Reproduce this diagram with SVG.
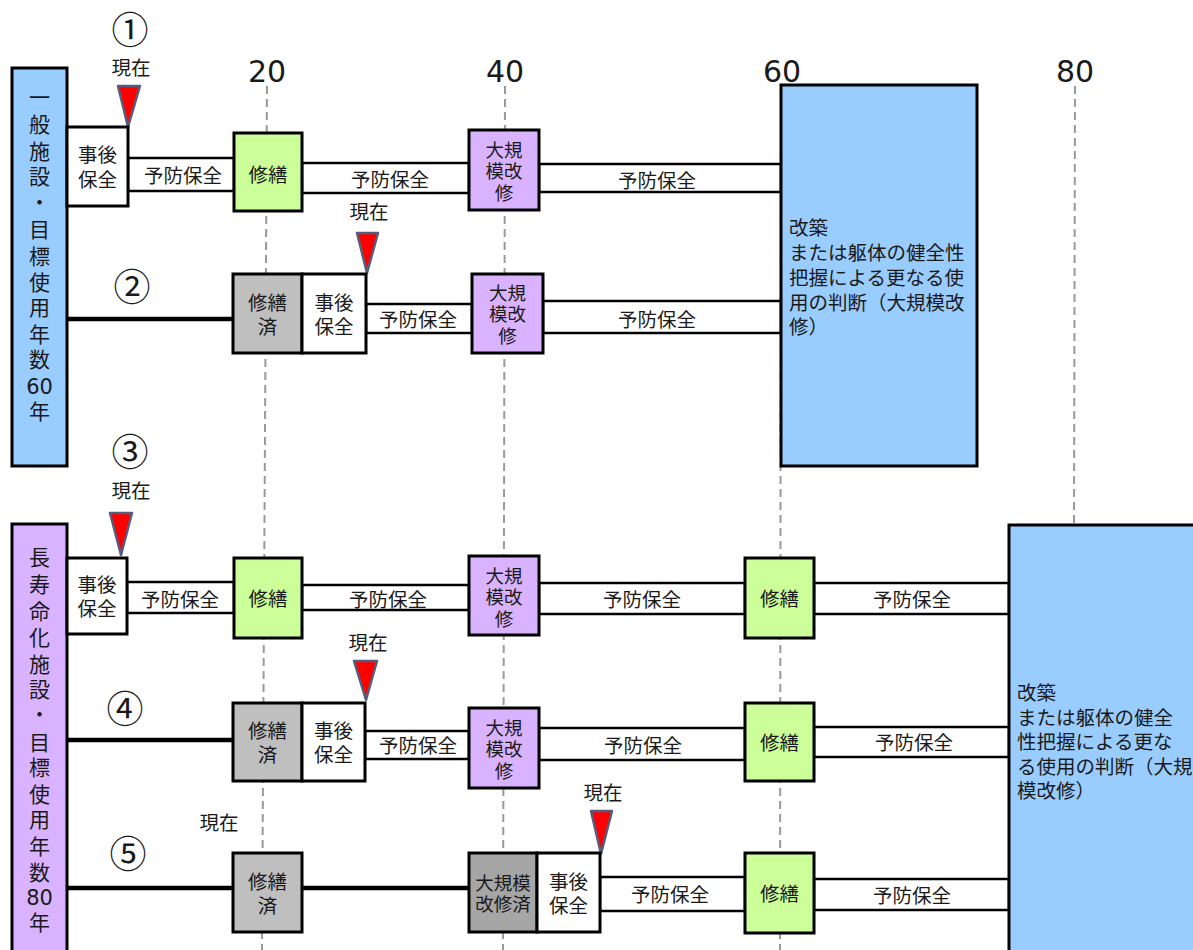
<svg xmlns="http://www.w3.org/2000/svg" width="1193" height="950" viewBox="0 0 1193 950">
<style>
text{font-family:"DejaVu Sans","Noto Sans CJK JP",sans-serif;fill:#1a1a1a;text-anchor:middle;dominant-baseline:central}
.t{font-size:19.5px}
.s{font-size:18.5px}
.num{font-size:30px}
.circ{font-size:37px;font-family:"Noto Sans CJK JP",sans-serif}
.bar{font-size:21px}
.lt{font-size:19.5px;text-anchor:start}
.box{stroke:#000;stroke-width:3}
.white{fill:#fff}
.green{fill:#ccff99}
.purple{fill:#d9b3ff}
.gray{fill:#bfbfbf}
.dgray{fill:#a6a6a6}
.blue{fill:#99ccff}
.band{fill:#fff;stroke:#000;stroke-width:2.5}
.dash{stroke:#999;stroke-width:2;stroke-dasharray:8 5;fill:none}
.thick{stroke:#000;stroke-width:4.5;fill:none}
.tri{fill:#ff0000;stroke:#555d7c;stroke-width:2.5;stroke-linejoin:round}
</style>
<rect width="1193" height="950" fill="#fff"/>
<g id="axis">
<line class="dash" x1="267" y1="86" x2="262" y2="950"/>
<line class="dash" x1="505" y1="86" x2="503" y2="950"/>
<line class="dash" x1="781" y1="86" x2="780" y2="950"/>
<line class="dash" x1="1075" y1="86" x2="1074" y2="525"/>
<text class="num" x="267" y="71">20</text>
<text class="num" x="505" y="71">40</text>
<text class="num" x="782" y="71">60</text>
<text class="num" x="1075" y="71">80</text>
</g>
<g id="connectors">
<rect class="band" x="128" y="158" width="106" height="33"/>
<rect class="band" x="302" y="163" width="167" height="30"/>
<rect class="band" x="539" y="164" width="242" height="28"/>
<line class="thick" x1="67" y1="319" x2="233" y2="319"/>
<rect class="band" x="366" y="304" width="106" height="29"/>
<rect class="band" x="543" y="301" width="238" height="32"/>
<rect class="band" x="127" y="582" width="107" height="31"/>
<rect class="band" x="302" y="585" width="167" height="25"/>
<rect class="band" x="539" y="583" width="206" height="31"/>
<rect class="band" x="814" y="583" width="195" height="31"/>
<line class="thick" x1="67" y1="740" x2="233" y2="740"/>
<rect class="band" x="365" y="731" width="104" height="28"/>
<rect class="band" x="539" y="728" width="206" height="32"/>
<rect class="band" x="814" y="727" width="195" height="30"/>
<line class="thick" x1="67" y1="888" x2="233" y2="888"/>
<line class="thick" x1="302" y1="888" x2="469" y2="888"/>
<rect class="band" x="600" y="877" width="145" height="34"/>
<rect class="band" x="814" y="879" width="195" height="31"/>
</g>
<g id="band-labels">
<text class="t" x="183" y="176">予防保全</text>
<text class="t" x="390" y="180">予防保全</text>
<text class="t" x="657" y="181">予防保全</text>
<text class="t" x="418" y="320">予防保全</text>
<text class="t" x="657" y="320">予防保全</text>
<text class="t" x="180" y="600">予防保全</text>
<text class="t" x="388" y="600">予防保全</text>
<text class="t" x="642" y="600">予防保全</text>
<text class="t" x="912" y="600">予防保全</text>
<text class="t" x="418" y="746">予防保全</text>
<text class="t" x="643" y="746">予防保全</text>
<text class="t" x="914" y="743">予防保全</text>
<text class="t" x="670" y="895">予防保全</text>
<text class="t" x="912" y="896">予防保全</text>
</g>
<g id="bar60">
<rect class="box blue" x="12" y="68" width="55" height="398"/>
<text class="bar"><tspan x="39.5" y="98">一</tspan><tspan x="39.5" y="125">般</tspan><tspan x="39.5" y="152">施</tspan><tspan x="39.5" y="177">設</tspan><tspan x="39.5" y="203">・</tspan><tspan x="39.5" y="230">目</tspan><tspan x="39.5" y="257">標</tspan><tspan x="39.5" y="283">使</tspan><tspan x="39.5" y="308">用</tspan><tspan x="39.5" y="335">年</tspan><tspan x="39.5" y="360">数</tspan><tspan x="39.5" y="387">60</tspan><tspan x="39.5" y="412">年</tspan></text>
</g>
<g id="bar80">
<rect class="box purple" x="12" y="524" width="55" height="440"/>
<text class="bar"><tspan x="39.5" y="558">長</tspan><tspan x="39.5" y="585">寿</tspan><tspan x="39.5" y="612">命</tspan><tspan x="39.5" y="638">化</tspan><tspan x="39.5" y="665">施</tspan><tspan x="39.5" y="690">設</tspan><tspan x="39.5" y="715">・</tspan><tspan x="39.5" y="743">目</tspan><tspan x="39.5" y="768">標</tspan><tspan x="39.5" y="795">使</tspan><tspan x="39.5" y="820">用</tspan><tspan x="39.5" y="847">年</tspan><tspan x="39.5" y="873">数</tspan><tspan x="39.5" y="898">80</tspan><tspan x="39.5" y="923">年</tspan></text>
</g>
<g id="rebuild60">
<rect class="box blue" x="781" y="85" width="196" height="381"/>
<text class="lt"><tspan x="789" y="228">改築</tspan><tspan x="789" y="253">または躯体の健全性</tspan><tspan x="789" y="278">把握による更なる使</tspan><tspan x="789" y="303">用の判断（大規模改</tspan><tspan x="789" y="327">修）</tspan></text>
</g>
<g id="rebuild80">
<rect class="box blue" x="1009" y="525" width="200" height="440"/>
<text class="lt"><tspan x="1017" y="693">改築</tspan><tspan x="1017" y="718">または躯体の健全</tspan><tspan x="1017" y="742">性把握による更な</tspan><tspan x="1017" y="767">る使用の判断（大規</tspan><tspan x="1017" y="791">模改修）</tspan></text>
</g>
<g id="row1">
<text class="circ" x="130" y="28">①</text>
<text class="t" x="131" y="68">現在</text>
<polygon class="tri" points="118,86 140,86 128,127"/>
<g id="r1-jigo"><rect class="box white" x="67" y="127" width="61" height="79"/><text class="t"><tspan x="97.5" y="155">事後</tspan><tspan x="97.5" y="180">保全</tspan></text></g>
<g id="r1-shuzen"><rect class="box green" x="234" y="133" width="68" height="78"/><text class="t" x="268" y="175">修繕</text></g>
<g id="r1-daikibo"><rect class="box purple" x="469" y="130" width="70" height="80"/><text class="s"><tspan x="504" y="150">大規</tspan><tspan x="504" y="171">模改</tspan><tspan x="504" y="193">修</tspan></text></g>
</g>
<g id="row2">
<text class="circ" x="132" y="285">②</text>
<text class="t" x="369" y="212">現在</text>
<polygon class="tri" points="357,233 378,233 367,273"/>
<g id="r2-zumi"><rect class="box gray" x="233" y="274" width="69" height="79"/><text class="t"><tspan x="267.5" y="303">修繕</tspan><tspan x="267.5" y="327">済</tspan></text></g>
<g id="r2-jigo"><rect class="box white" x="302" y="274" width="64" height="79"/><text class="t"><tspan x="334" y="303">事後</tspan><tspan x="334" y="327">保全</tspan></text></g>
<g id="r2-daikibo"><rect class="box purple" x="472" y="274" width="71" height="79"/><text class="s"><tspan x="507.5" y="293">大規</tspan><tspan x="507.5" y="314">模改</tspan><tspan x="507.5" y="336">修</tspan></text></g>
</g>
<g id="row3">
<text class="circ" x="130" y="450">③</text>
<text class="t" x="131" y="491">現在</text>
<polygon class="tri" points="110,513 132,513 121,555"/>
<g id="r3-jigo"><rect class="box white" x="67" y="558" width="60" height="76"/><text class="t"><tspan x="97" y="585">事後</tspan><tspan x="97" y="609">保全</tspan></text></g>
<g id="r3-shuzen1"><rect class="box green" x="234" y="558" width="68" height="80"/><text class="t" x="268" y="599">修繕</text></g>
<g id="r3-daikibo"><rect class="box purple" x="469" y="556" width="70" height="79"/><text class="s"><tspan x="504" y="576">大規</tspan><tspan x="504" y="597">模改</tspan><tspan x="504" y="619">修</tspan></text></g>
<g id="r3-shuzen2"><rect class="box green" x="745" y="558" width="69" height="80"/><text class="t" x="779.5" y="599">修繕</text></g>
</g>
<g id="row4">
<text class="circ" x="125" y="707">④</text>
<text class="t" x="368" y="643">現在</text>
<polygon class="tri" points="354,661 377,661 366,700"/>
<g id="r4-zumi"><rect class="box gray" x="233" y="703" width="69" height="78"/><text class="t"><tspan x="267.5" y="731">修繕</tspan><tspan x="267.5" y="755">済</tspan></text></g>
<g id="r4-jigo"><rect class="box white" x="302" y="703" width="63" height="78"/><text class="t"><tspan x="333.5" y="731">事後</tspan><tspan x="333.5" y="755">保全</tspan></text></g>
<g id="r4-daikibo"><rect class="box purple" x="469" y="708" width="70" height="80"/><text class="s"><tspan x="504" y="728">大規</tspan><tspan x="504" y="749">模改</tspan><tspan x="504" y="771">修</tspan></text></g>
<g id="r4-shuzen"><rect class="box green" x="745" y="703" width="69" height="78"/><text class="t" x="779.5" y="743">修繕</text></g>
</g>
<g id="row5">
<text class="circ" x="128" y="852">⑤</text>
<text class="t" x="219" y="823">現在</text>
<text class="t" x="603" y="793">現在</text>
<polygon class="tri" points="591,811 612,811 601,854"/>
<g id="r5-zumi"><rect class="box gray" x="233" y="853" width="69" height="79"/><text class="t"><tspan x="267.5" y="882">修繕</tspan><tspan x="267.5" y="906">済</tspan></text></g>
<g id="r5-daikibozumi"><rect class="box dgray" x="469" y="853" width="68" height="79"/><text class="s"><tspan x="503" y="883">大規模</tspan><tspan x="503" y="904">改修済</tspan></text></g>
<g id="r5-jigo"><rect class="box white" x="537" y="853" width="63" height="79"/><text class="t"><tspan x="568.5" y="882">事後</tspan><tspan x="568.5" y="906">保全</tspan></text></g>
<g id="r5-shuzen"><rect class="box green" x="745" y="853" width="69" height="80"/><text class="t" x="779.5" y="894">修繕</text></g>
</g>
</svg>
